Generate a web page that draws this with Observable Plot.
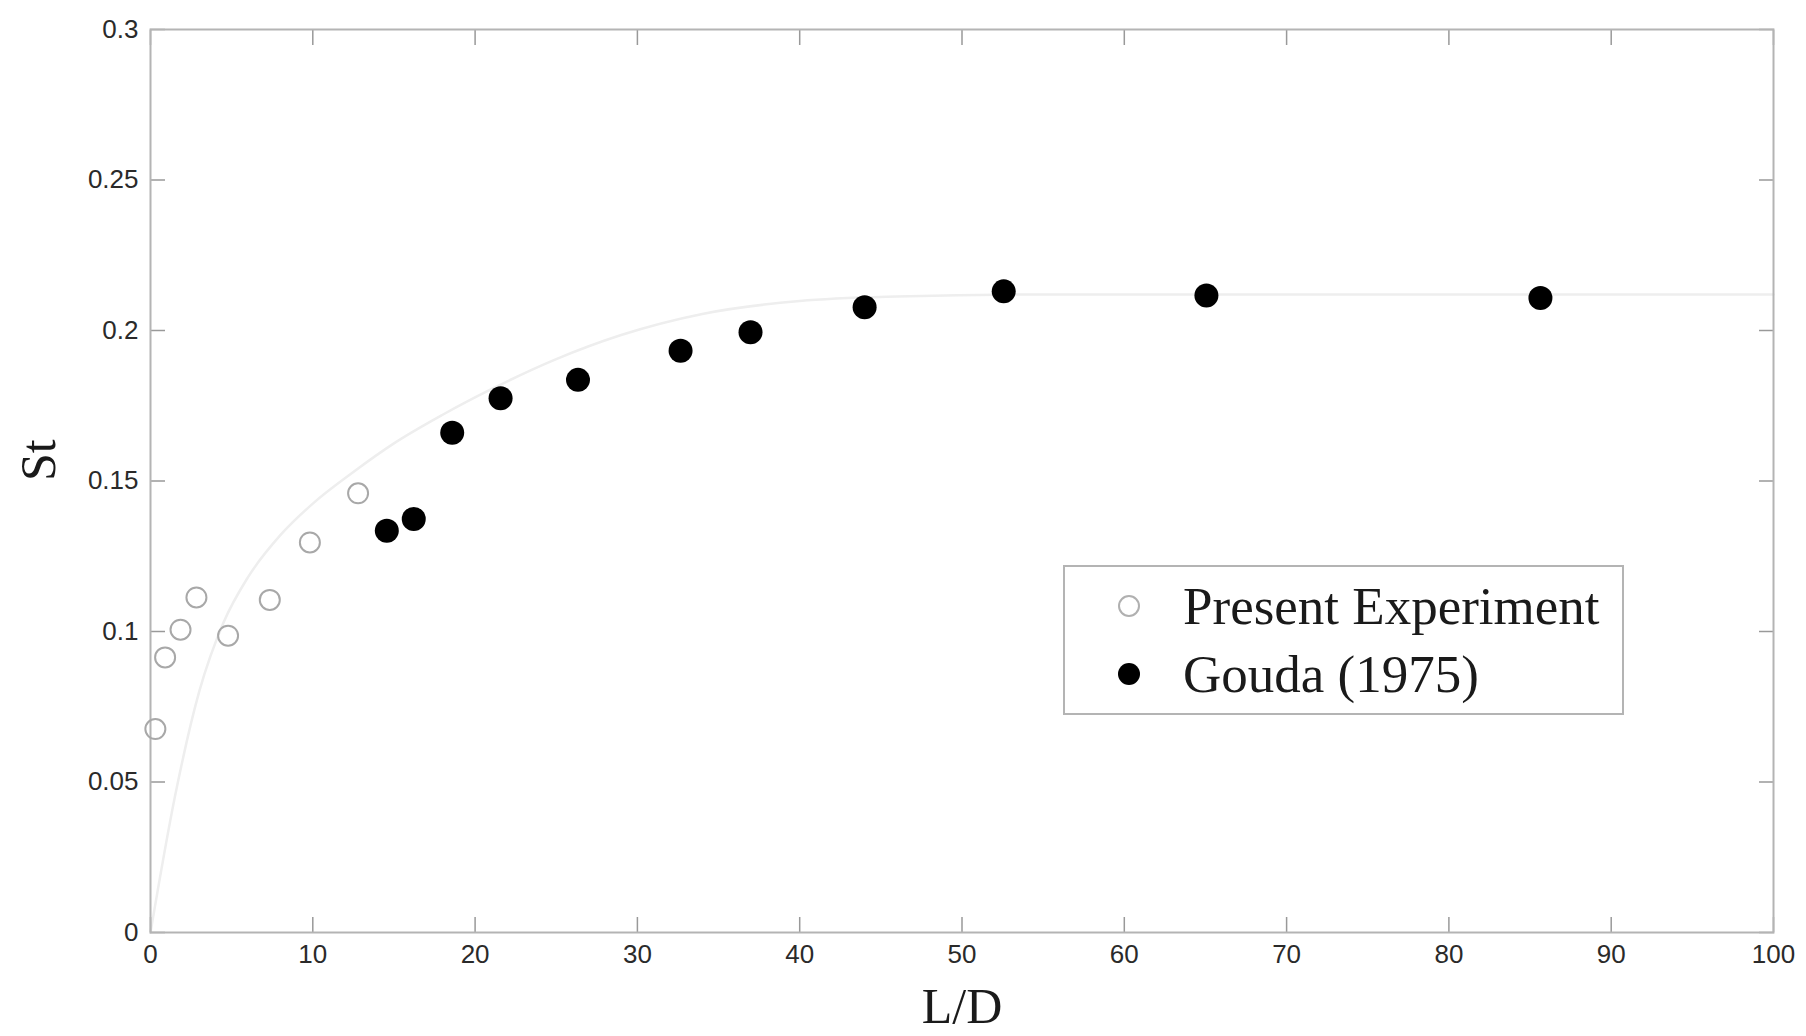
<!DOCTYPE html>
<html>
<head>
<meta charset="utf-8">
<script src="https://cdn.jsdelivr.net/npm/d3@7"></script>
<script src="https://cdn.jsdelivr.net/npm/@observablehq/plot@0.6"></script>
<style>
  html, body { margin: 0; padding: 0; background: #fff; }
  #wrap { position: relative; width: 1806px; height: 1036px; }
  #legend {
    position: absolute; left: 1063px; top: 565px; width: 557px; height: 146px;
    border: 2px solid #b4b4b4; background: #fff; box-sizing: content-box;
    font-family: "Liberation Serif", "Times New Roman", serif; font-size: 53px; color: #1a1a1a;
  }
  .row { position: absolute; left: 0; display: flex; align-items: center; white-space: nowrap; }
  .row svg { margin-left: 50px; margin-right: 40px; }
</style>
</head>
<body>
<div id="wrap"></div>
<script>
// Present Experiment (open grey circles)
const presentLD = [0.3, 0.9, 1.85, 2.83, 4.78, 7.35, 9.82, 12.79];
const presentSt = [0.0676, 0.0914, 0.1006, 0.1113, 0.0986, 0.1105, 0.1296, 0.1459];
// Gouda (1975) (filled black circles)
const goudaLD = [14.56, 16.22, 18.59, 21.57, 26.34, 32.66, 36.97, 44.0, 52.57, 65.06, 85.64];
const goudaSt = [0.1335, 0.1374, 0.166, 0.1775, 0.1836, 0.1933, 0.1994, 0.2077, 0.2130, 0.2116, 0.2108];
// faint grey trend curve
const curveLD = [0, 1.5, 3, 4.5, 6, 8, 10, 12.5, 15, 18, 21, 25, 29, 34, 40, 46, 55, 70, 85, 100];
const curveSt = [0, 0.045, 0.080, 0.103, 0.118, 0.132, 0.1425, 0.153, 0.1625, 0.172, 0.1805, 0.1905, 0.1985, 0.2055, 0.2098, 0.2113, 0.212, 0.212, 0.212, 0.212];

const xTicks = [0, 10, 20, 30, 40, 50, 60, 70, 80, 90, 100];
const yTicks = [0, 0.05, 0.1, 0.15, 0.2, 0.25, 0.3];
const xLabel = "L/D";
const yLabel = "St";
const seriesNames = ["Present Experiment", "Gouda (1975)"];

const present = presentLD.map((x, i) => ({x, y: presentSt[i]}));
const gouda = goudaLD.map((x, i) => ({x, y: goudaSt[i]}));
const curve = curveLD.map((x, i) => ({x, y: curveSt[i]}));

const sans = "'Liberation Sans', Arial, sans-serif";
const serif = "'Liberation Serif', 'Times New Roman', serif";

const chart = Plot.plot({
  width: 1806,
  height: 1036,
  marginLeft: 150,
  marginRight: 33,
  marginTop: 29,
  marginBottom: 104,
  style: {background: "#fff", fontFamily: sans, color: "#333"},
  x: {domain: [0, 100]},
  y: {domain: [0, 0.3]},
  marks: [
    Plot.line(curve, {x: "x", y: "y", curve: "monotone-x", stroke: "#eeeeee", strokeWidth: 2.5}),
    // inward ticks on all four sides
    Plot.axisX({ticks: xTicks, anchor: "bottom", tickSize: -15, text: null, label: null, stroke: "#999", strokeWidth: 1.5}),
    Plot.axisX({ticks: xTicks, anchor: "top", tickSize: -15, text: null, label: null, stroke: "#999", strokeWidth: 1.5}),
    Plot.axisY({ticks: yTicks, anchor: "left", tickSize: -15, text: null, label: null, stroke: "#999", strokeWidth: 1.5}),
    Plot.axisY({ticks: yTicks, anchor: "right", tickSize: -15, text: null, label: null, stroke: "#999", strokeWidth: 1.5}),
    // tick labels
    Plot.axisX({ticks: xTicks, anchor: "bottom", tickSize: 0, tickPadding: 12, label: null, fontSize: 26, fill: "#2a2a2a"}),
    Plot.axisY({ticks: yTicks, anchor: "left", tickSize: 0, tickPadding: 12, label: null, fontSize: 26, fill: "#2a2a2a", tickFormat: d => String(d)}),
    Plot.frame({stroke: "#b4b4b4", strokeWidth: 2}),
    Plot.dot(present, {x: "x", y: "y", r: 10, stroke: "#a8a8a8", strokeWidth: 2, fill: "none"}),
    Plot.dot(gouda, {x: "x", y: "y", r: 12, fill: "#000", stroke: "none"}),
    // axis titles
    Plot.text([xLabel], {frameAnchor: "bottom", dy: 74, fontSize: 50, fontFamily: serif, fill: "#1a1a1a", lineAnchor: "middle"}),
    Plot.text([yLabel], {frameAnchor: "left", dx: -112, rotate: -90, fontSize: 50, fontFamily: serif, fill: "#1a1a1a", lineAnchor: "middle"})
  ]
});

const wrap = document.getElementById("wrap");
wrap.appendChild(chart);

// legend inside the plot area
const legend = document.createElement("div");
legend.id = "legend";
legend.innerHTML = `
  <div class="row" style="top:6px;height:66px">
    <svg width="28" height="28"><circle cx="14" cy="14" r="10" fill="none" stroke="#b0b0b0" stroke-width="2"/></svg>
    <span>${seriesNames[0]}</span>
  </div>
  <div class="row" style="top:74px;height:66px">
    <svg width="28" height="28"><circle cx="14" cy="14" r="11" fill="#000"/></svg>
    <span>${seriesNames[1]}</span>
  </div>`;
wrap.appendChild(legend);
</script>
</body>
</html>
